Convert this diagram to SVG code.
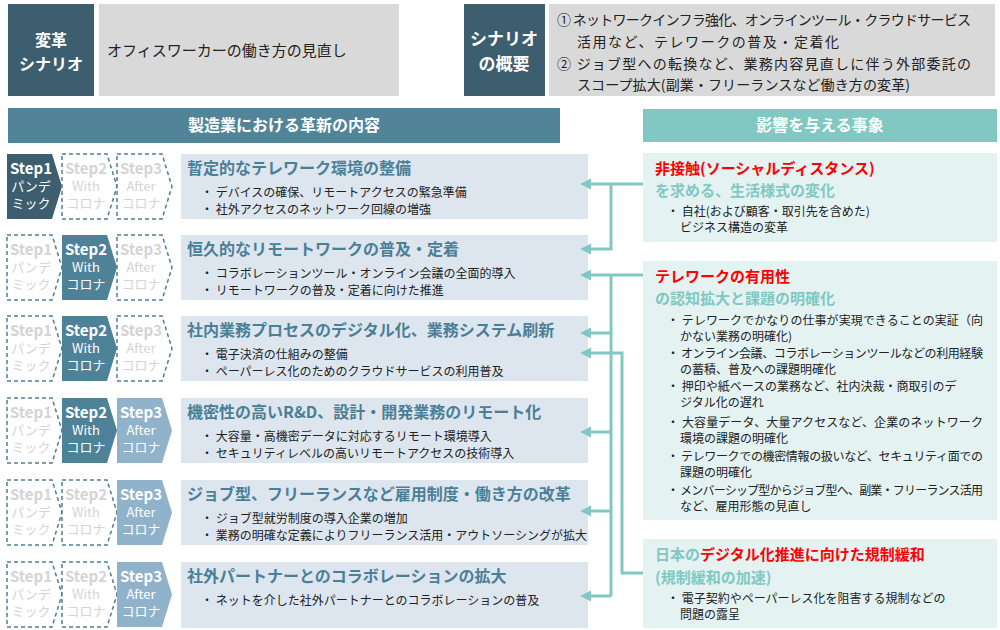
<svg xmlns="http://www.w3.org/2000/svg" xmlns:xlink="http://www.w3.org/1999/xlink" width="1000" height="630" viewBox="0 0 1000 630">
<style>
text{font-family:"Noto Sans CJK JP","Noto Sans",sans-serif;}
.dark{fill:#3c5e6e;}
.gray{fill:#d9d9d9;}
.wb{fill:#ffffff;font-weight:bold;}
.hdrL{fill:#528499;}
.hdrR{fill:#80c8c1;}
.row{fill:#dde6ef;}
.ttl{fill:#4b7f96;font-weight:bold;font-size:16px;}
.bl{fill:#222222;font-size:12px;}
.a1{fill:#3c5e6e;}
.a2{fill:#4e8299;}
.a3{fill:#91b2cb;}
.off{fill:#ffffff;stroke:#4e7f95;stroke-width:1.5;stroke-dasharray:4 3;}
.st{font-size:15px;font-weight:bold;text-anchor:middle;}
.ss{font-size:13px;text-anchor:middle;}
.on{fill:#ffffff;}
.dim{fill:#d4d4d4;}
.rbox{fill:#e4f3f2;}
.red{fill:#ff0000;font-weight:bold;font-size:15px;}
.teal{fill:#80c8c1;font-weight:bold;font-size:15px;}
.ov{font-size:14px;fill:#222222;}
.cn{fill:none;stroke:#80c8c1;stroke-width:3;}
</style>
<defs>
<polygon id="chev" points="0,0 45,0 55,32.5 45,65 0,65"/>
<marker id="ah" markerUnits="userSpaceOnUse" markerWidth="12" markerHeight="12" refX="0" refY="5.5" orient="auto">
<path d="M0,0 L11,5.5 L0,11 z" fill="#80c8c1"/>
</marker>
</defs>
<rect width="1000" height="630" fill="#ffffff"/>

<g id="scenario">
<rect class="dark" x="8" y="4" width="86" height="92"/>
<text class="wb" font-size="16" x="51" y="46" text-anchor="middle">変革</text>
<text class="wb" font-size="16" x="51" y="70" text-anchor="middle">シナリオ</text>
<rect class="gray" x="99" y="4" width="300" height="92"/>
<text x="107" y="56" font-size="15" fill="#222">オフィスワーカーの働き方の見直し</text>
</g>

<g id="overview">
<rect class="dark" x="464" y="4" width="81" height="92"/>
<text class="wb" font-size="17" x="504" y="45" text-anchor="middle">シナリオ</text>
<text class="wb" font-size="17" x="504" y="70" text-anchor="middle">の概要</text>
<rect class="gray" x="549" y="4" width="446" height="92"/>
<text class="ov" x="557" y="25" textLength="414">① ネットワークインフラ強化、オンラインツール・クラウドサービス</text>
<text class="ov" x="577" y="47" textLength="262">活用など、テレワークの普及・定着化</text>
<text class="ov" x="557" y="69" textLength="414">② ジョブ型への転換など、業務内容見直しに伴う外部委託の</text>
<text class="ov" x="577" y="90" textLength="333">スコープ拡大(副業・フリーランスなど働き方の変革)</text>
</g>

<g id="header-left">
<rect class="hdrL" x="8" y="108" width="552" height="35"/>
<text class="wb" font-size="16" x="284" y="131" text-anchor="middle">製造業における革新の内容</text>
</g>
<g id="header-right">
<rect class="hdrR" x="643" y="109" width="354" height="33"/>
<text class="wb" font-size="16" x="820" y="131" text-anchor="middle">影響を与える事象</text>
</g>

<g id="row1">
<use href="#chev" x="7" y="154" class="a1"/>
<text class="st on" x="31" y="174">Step1</text>
<text class="ss on" x="31" y="191">パンデ</text>
<text class="ss on" x="31" y="208">ミック</text>
<use href="#chev" x="62" y="154" class="off"/>
<text class="st dim" x="86" y="174">Step2</text>
<text class="ss dim" x="86" y="191">With</text>
<text class="ss dim" x="86" y="208">コロナ</text>
<use href="#chev" x="117" y="154" class="off"/>
<text class="st dim" x="141" y="174">Step3</text>
<text class="ss dim" x="141" y="191">After</text>
<text class="ss dim" x="141" y="208">コロナ</text>
<rect class="row" x="181" y="154" width="407" height="65"/>
<text class="ttl" x="187" y="174">暫定的なテレワーク環境の整備</text>
<text class="bl" x="201" y="197">・ デバイスの確保、リモートアクセスの緊急準備</text>
<text class="bl" x="201" y="214">・ 社外アクセスのネットワーク回線の増強</text>
</g>

<g id="row2">
<use href="#chev" x="7" y="235" class="off"/>
<text class="st dim" x="31" y="255">Step1</text>
<text class="ss dim" x="31" y="272">パンデ</text>
<text class="ss dim" x="31" y="289">ミック</text>
<use href="#chev" x="62" y="235" class="a2"/>
<text class="st on" x="86" y="255">Step2</text>
<text class="ss on" x="86" y="272">With</text>
<text class="ss on" x="86" y="289">コロナ</text>
<use href="#chev" x="117" y="235" class="off"/>
<text class="st dim" x="141" y="255">Step3</text>
<text class="ss dim" x="141" y="272">After</text>
<text class="ss dim" x="141" y="289">コロナ</text>
<rect class="row" x="181" y="235" width="407" height="65"/>
<text class="ttl" x="187" y="255">恒久的なリモートワークの普及・定着</text>
<text class="bl" x="201" y="278">・ コラボレーションツール・オンライン会議の全面的導入</text>
<text class="bl" x="201" y="295">・ リモートワークの普及・定着に向けた推進</text>
</g>

<g id="row3">
<use href="#chev" x="7" y="316" class="off"/>
<text class="st dim" x="31" y="336">Step1</text>
<text class="ss dim" x="31" y="353">パンデ</text>
<text class="ss dim" x="31" y="370">ミック</text>
<use href="#chev" x="62" y="316" class="a2"/>
<text class="st on" x="86" y="336">Step2</text>
<text class="ss on" x="86" y="353">With</text>
<text class="ss on" x="86" y="370">コロナ</text>
<use href="#chev" x="117" y="316" class="off"/>
<text class="st dim" x="141" y="336">Step3</text>
<text class="ss dim" x="141" y="353">After</text>
<text class="ss dim" x="141" y="370">コロナ</text>
<rect class="row" x="181" y="316" width="407" height="65"/>
<text class="ttl" x="187" y="336">社内業務プロセスのデジタル化、業務システム刷新</text>
<text class="bl" x="201" y="359">・ 電子決済の仕組みの整備</text>
<text class="bl" x="201" y="376">・ ペーパーレス化のためのクラウドサービスの利用普及</text>
</g>

<g id="row4">
<use href="#chev" x="7" y="398" class="off"/>
<text class="st dim" x="31" y="418">Step1</text>
<text class="ss dim" x="31" y="435">パンデ</text>
<text class="ss dim" x="31" y="452">ミック</text>
<use href="#chev" x="62" y="398" class="a2"/>
<text class="st on" x="86" y="418">Step2</text>
<text class="ss on" x="86" y="435">With</text>
<text class="ss on" x="86" y="452">コロナ</text>
<use href="#chev" x="117" y="398" class="a3"/>
<text class="st on" x="141" y="418">Step3</text>
<text class="ss on" x="141" y="435">After</text>
<text class="ss on" x="141" y="452">コロナ</text>
<rect class="row" x="181" y="398" width="407" height="65"/>
<text class="ttl" x="187" y="418">機密性の高いR&amp;D、設計・開発業務のリモート化</text>
<text class="bl" x="201" y="441">・ 大容量・高機密データに対応するリモート環境導入</text>
<text class="bl" x="201" y="458">・ セキュリティレベルの高いリモートアクセスの技術導入</text>
</g>

<g id="row5">
<use href="#chev" x="7" y="480" class="off"/>
<text class="st dim" x="31" y="500">Step1</text>
<text class="ss dim" x="31" y="517">パンデ</text>
<text class="ss dim" x="31" y="534">ミック</text>
<use href="#chev" x="62" y="480" class="off"/>
<text class="st dim" x="86" y="500">Step2</text>
<text class="ss dim" x="86" y="517">With</text>
<text class="ss dim" x="86" y="534">コロナ</text>
<use href="#chev" x="117" y="480" class="a3"/>
<text class="st on" x="141" y="500">Step3</text>
<text class="ss on" x="141" y="517">After</text>
<text class="ss on" x="141" y="534">コロナ</text>
<rect class="row" x="181" y="480" width="407" height="65"/>
<text class="ttl" x="187" y="500">ジョブ型、フリーランスなど雇用制度・働き方の改革</text>
<text class="bl" x="201" y="523">・ ジョブ型就労制度の導入企業の増加</text>
<text class="bl" x="201" y="540">・ 業務の明確な定義によりフリーランス活用・アウトソーシングが拡大</text>
</g>

<g id="row6">
<use href="#chev" x="7" y="562" class="off"/>
<text class="st dim" x="31" y="582">Step1</text>
<text class="ss dim" x="31" y="599">パンデ</text>
<text class="ss dim" x="31" y="616">ミック</text>
<use href="#chev" x="62" y="562" class="off"/>
<text class="st dim" x="86" y="582">Step2</text>
<text class="ss dim" x="86" y="599">With</text>
<text class="ss dim" x="86" y="616">コロナ</text>
<use href="#chev" x="117" y="562" class="a3"/>
<text class="st on" x="141" y="582">Step3</text>
<text class="ss on" x="141" y="599">After</text>
<text class="ss on" x="141" y="616">コロナ</text>
<rect class="row" x="181" y="562" width="407" height="66"/>
<text class="ttl" x="187" y="582">社外パートナーとのコラボレーションの拡大</text>
<text class="bl" x="201" y="605">・ ネットを介した社外パートナーとのコラボレーションの普及</text>
</g>

<g id="event1">
<rect class="rbox" x="643" y="153" width="354" height="89"/>
<text class="red" x="655" y="174">非接触(ソーシャルディスタンス)</text>
<text class="teal" x="655" y="196">を求める、生活様式の変化</text>
<text class="bl" x="667" y="216">・ 自社(および顧客・取引先を含めた)</text>
<text class="bl" x="680" y="232">ビジネス構造の変革</text>
</g>

<g id="event2">
<rect class="rbox" x="643" y="261" width="354" height="259"/>
<text class="red" x="655" y="282">テレワークの有用性</text>
<text class="teal" x="655" y="304">の認知拡大と課題の明確化</text>
<text class="bl" x="667" y="325" textLength="316">・ テレワークでかなりの仕事が実現できることの実証（向</text>
<text class="bl" x="680" y="341">かない業務の明確化)</text>
<text class="bl" x="667" y="358" textLength="316">・ オンライン会議、コラボレーションツールなどの利用経験</text>
<text class="bl" x="680" y="374">の蓄積、普及への課題明確化</text>
<text class="bl" x="667" y="391">・ 押印や紙ベースの業務など、社内決裁・商取引のデ</text>
<text class="bl" x="680" y="407">ジタル化の遅れ</text>
<text class="bl" x="667" y="427" textLength="316">・ 大容量データ、大量アクセスなど、企業のネットワーク</text>
<text class="bl" x="680" y="443">環境の課題の明確化</text>
<text class="bl" x="667" y="461" textLength="316">・ テレワークでの機密情報の扱いなど、セキュリティ面での</text>
<text class="bl" x="680" y="477">課題の明確化</text>
<text class="bl" x="667" y="495" textLength="316">・ メンバーシップ型からジョブ型へ、副業・フリーランス活用</text>
<text class="bl" x="680" y="511">など、雇用形態の見直し</text>
</g>

<g id="event3">
<rect class="rbox" x="643" y="539" width="354" height="89"/>
<text x="655" y="560" font-size="15" font-weight="bold"><tspan fill="#80c8c1">日本の</tspan><tspan fill="#ff0000">デジタル化推進に向けた規制緩和</tspan></text>
<text class="teal" x="655" y="583">(規制緩和の加速)</text>
<text class="bl" x="667" y="603">・ 電子契約やペーパーレス化を阻害する規制などの</text>
<text class="bl" x="680" y="619">問題の露呈</text>
</g>

<g id="connectors">
<path class="cn" d="M643,184 H591" marker-end="url(#ah)"/>
<path class="cn" d="M611,184 V249 H591" marker-end="url(#ah)"/>
<path class="cn" d="M643,275 H591" marker-end="url(#ah)"/>
<path class="cn" d="M611,275 V596"/>
<path class="cn" d="M611,333 H591" marker-end="url(#ah)"/>
<path class="cn" d="M611,432 H591" marker-end="url(#ah)"/>
<path class="cn" d="M611,511 H591" marker-end="url(#ah)"/>
<path class="cn" d="M611,596 H591" marker-end="url(#ah)"/>
<path class="cn" d="M643,573 H622 V353 H591" marker-end="url(#ah)"/>
</g>
</svg>
